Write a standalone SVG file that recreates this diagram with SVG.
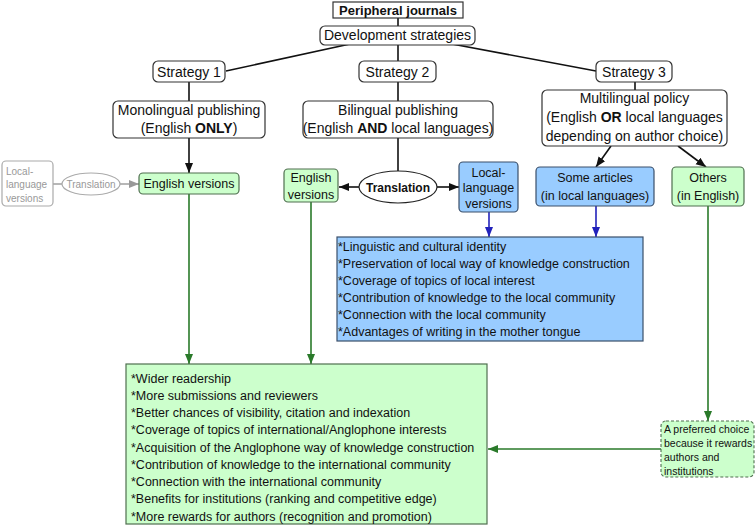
<svg xmlns="http://www.w3.org/2000/svg" width="756" height="526" viewBox="0 0 756 526">
<style>
text{font-family:"Liberation Sans",Arial,sans-serif;fill:#111}
.n{fill:#fff;stroke:#333;stroke-width:1.2}
.g{fill:#ccffcc;stroke:#4f6f4f;stroke-width:1.2}
.b{fill:#99ccff;stroke:#3a4f6a;stroke-width:1.2}
.t14{font-size:14px}
.t125{font-size:12.5px}
.c{text-anchor:middle}
.k{stroke:#111;stroke-width:1.6;fill:none}
.gl{stroke:#2a7a2a;stroke-width:1.6;fill:none}
.bl{stroke:#2222bb;stroke-width:1.6;fill:none}
.gr{stroke:#999;stroke-width:1.4;fill:none}
</style>
<defs>
<marker id="ak" markerUnits="userSpaceOnUse" markerWidth="10" markerHeight="10" viewBox="0 0 10 10" refX="10" refY="5" orient="auto"><path d="M0,1 L10,5 L0,9 z" fill="#111"/></marker>
<marker id="ag" markerUnits="userSpaceOnUse" markerWidth="10" markerHeight="10" viewBox="0 0 10 10" refX="10" refY="5" orient="auto"><path d="M0,1 L10,5 L0,9 z" fill="#2a7a2a"/></marker>
<marker id="ab" markerUnits="userSpaceOnUse" markerWidth="10" markerHeight="10" viewBox="0 0 10 10" refX="10" refY="5" orient="auto"><path d="M0,1 L10,5 L0,9 z" fill="#2222bb"/></marker>
<marker id="ay" markerUnits="userSpaceOnUse" markerWidth="10" markerHeight="10" viewBox="0 0 10 10" refX="10" refY="5" orient="auto"><path d="M0,1 L10,5 L0,9 z" fill="#999"/></marker>
</defs>
<g id="connectors">
<line class="k" x1="398" y1="18" x2="398" y2="26"/>
<line class="k" x1="350" y1="44" x2="226" y2="71"/>
<line class="k" x1="452" y1="44" x2="596" y2="71"/>
<line class="k" x1="398" y1="44" x2="398" y2="61"/>
<line class="k" x1="189" y1="82" x2="189" y2="101"/>
<line class="k" x1="398" y1="82" x2="398" y2="101"/>
<line class="k" x1="635" y1="82" x2="635" y2="90"/>
<line class="k" x1="189" y1="138" x2="189" y2="173" marker-end="url(#ak)"/>
<line class="k" x1="398" y1="138" x2="398" y2="171"/>
<line class="k" x1="359" y1="187" x2="339" y2="187" marker-end="url(#ak)"/>
<line class="k" x1="437" y1="187" x2="459" y2="187" marker-end="url(#ak)"/>
<line class="k" x1="611" y1="146" x2="596" y2="167" marker-end="url(#ak)"/>
<line class="k" x1="678" y1="146" x2="706" y2="167" marker-end="url(#ak)"/>
<line class="gr" x1="53" y1="184" x2="62" y2="184"/>
<line class="gr" x1="120" y1="184" x2="139" y2="184" marker-end="url(#ay)"/>
<line class="bl" x1="489" y1="212" x2="489" y2="237" marker-end="url(#ab)"/>
<line class="bl" x1="596" y1="206" x2="596" y2="237" marker-end="url(#ab)"/>
<line class="gl" x1="189" y1="194" x2="189" y2="364" marker-end="url(#ag)"/>
<line class="gl" x1="311" y1="202" x2="311" y2="364" marker-end="url(#ag)"/>
<line class="gl" x1="708" y1="206" x2="708" y2="421" marker-end="url(#ag)"/>
<line class="gl" x1="661" y1="449" x2="488" y2="449" marker-end="url(#ag)"/>
</g>
<g id="peripheral">
<rect x="333" y="2" width="130" height="16" fill="#fff" stroke="#333" stroke-width="1.2"/>
<text x="398" y="14.5" class="c" font-size="13" font-weight="bold">Peripheral journals</text>
</g>
<g id="dev">
<rect class="n" x="320" y="26" width="155" height="19" rx="5"/>
<text x="397.5" y="40" class="c t14">Development strategies</text>
</g>
<g id="s1">
<rect class="n" x="153" y="61" width="72" height="21" rx="5"/>
<text x="189" y="76.5" class="c t14">Strategy 1</text>
</g>
<g id="s2">
<rect class="n" x="359" y="61" width="77" height="21" rx="5"/>
<text x="397.5" y="76.5" class="c t14">Strategy 2</text>
</g>
<g id="s3">
<rect class="n" x="596" y="61" width="76" height="21" rx="5"/>
<text x="634" y="76.5" class="c t14">Strategy 3</text>
</g>
<g id="mono">
<rect class="n" x="113" y="101" width="152" height="37" rx="5"/>
<text x="189" y="114.5" class="c t14">Monolingual publishing</text>
<text x="189" y="133" class="c t14">(English <tspan font-weight="bold">ONLY</tspan>)</text>
</g>
<g id="bi">
<rect class="n" x="303" y="101" width="190" height="37" rx="5"/>
<text x="398" y="114.5" class="c t14">Bilingual publishing</text>
<text x="398" y="133" class="c t14">(English <tspan font-weight="bold">AND</tspan> local languages)</text>
</g>
<g id="multi">
<rect class="n" x="542" y="90" width="185" height="56" rx="5"/>
<text x="634.5" y="103" class="c t14">Multilingual policy</text>
<text x="634.5" y="122" class="c t14">(English <tspan font-weight="bold">OR</tspan> local languages</text>
<text x="634.5" y="140.5" class="c t14">depending on author choice)</text>
</g>
<g id="local-gray">
<rect x="2" y="161" width="51" height="45" rx="4" fill="#fff" stroke="#aaa" stroke-width="1.2"/>
<text x="6" y="174.5" font-size="10" style="fill:#999">Local-</text>
<text x="6" y="188" font-size="10" style="fill:#999">language</text>
<text x="6" y="201.5" font-size="10" style="fill:#999">versions</text>
</g>
<g id="translation-gray">
<ellipse cx="91" cy="184" rx="29" ry="11" fill="#fff" stroke="#aaa" stroke-width="1.2"/>
<text x="91" y="187.5" class="c" font-size="10" style="fill:#999">Translation</text>
</g>
<g id="eng1">
<rect class="g" x="139" y="173" width="100" height="21" rx="4"/>
<text x="189" y="188" class="c t125">English versions</text>
</g>
<g id="eng2">
<rect class="g" x="284" y="169" width="54" height="33" rx="4"/>
<text x="311" y="181.5" class="c t125">English</text>
<text x="311" y="198.5" class="c t125">versions</text>
</g>
<g id="translation">
<ellipse cx="398" cy="187" rx="39" ry="16" fill="#fff" stroke="#222" stroke-width="1.2"/>
<text x="398" y="191.5" class="c" font-size="12" font-weight="bold">Translation</text>
</g>
<g id="local-blue">
<rect class="b" x="459" y="162" width="59" height="50" rx="4"/>
<text x="488.5" y="176.5" class="c t125">Local-</text>
<text x="488.5" y="192" class="c t125">language</text>
<text x="488.5" y="207.5" class="c t125">versions</text>
</g>
<g id="some">
<rect class="b" x="536" y="167" width="118" height="39" rx="4"/>
<text x="595" y="181.5" class="c t125">Some articles</text>
<text x="595" y="199.5" class="c t125">(in local languages)</text>
</g>
<g id="others">
<rect class="g" x="672" y="167" width="72" height="39" rx="4"/>
<text x="708" y="181.5" class="c t125">Others</text>
<text x="708" y="199.5" class="c t125">(in English)</text>
</g>
<g id="local-benefits">
<rect class="b" x="337" y="237" width="306" height="104" rx="0"/>
<text x="338" y="251" class="t125">*Linguistic and cultural identity</text>
<text x="338" y="268" class="t125">*Preservation of local way of knowledge construction</text>
<text x="338" y="285" class="t125">*Coverage of topics of local interest</text>
<text x="338" y="302" class="t125">*Contribution of knowledge to the local community</text>
<text x="338" y="319" class="t125">*Connection with the local community</text>
<text x="338" y="336" class="t125">*Advantages of writing in the mother tongue</text>
</g>
<g id="english-benefits">
<rect class="g" x="126" y="364" width="361" height="160" rx="0"/>
<text x="131" y="382.5" class="t125">*Wider readership</text>
<text x="131" y="399.8" class="t125">*More submissions and reviewers</text>
<text x="131" y="417" class="t125">*Better chances of visibility, citation and indexation</text>
<text x="131" y="434.3" class="t125">*Coverage of topics of international/Anglophone interests</text>
<text x="131" y="451.5" class="t125">*Acquisition of the Anglophone way of knowledge construction</text>
<text x="131" y="468.8" class="t125">*Contribution of knowledge to the international community</text>
<text x="131" y="486" class="t125">*Connection with the international community</text>
<text x="131" y="503.3" class="t125">*Benefits for institutions (ranking and competitive edge)</text>
<text x="131" y="520.5" class="t125">*More rewards for authors (recognition and promotion)</text>
</g>
<g id="preferred">
<rect x="661" y="421" width="93" height="56" rx="5" fill="#ccffcc" stroke="#4f6f4f" stroke-width="1.1" stroke-dasharray="3,2"/>
<text x="664" y="433" font-size="10.5">A preferred choice</text>
<text x="664" y="447" font-size="10.5">because it rewards</text>
<text x="664" y="461" font-size="10.5">authors and</text>
<text x="664" y="475" font-size="10.5">institutions</text>
</g>
</svg>
